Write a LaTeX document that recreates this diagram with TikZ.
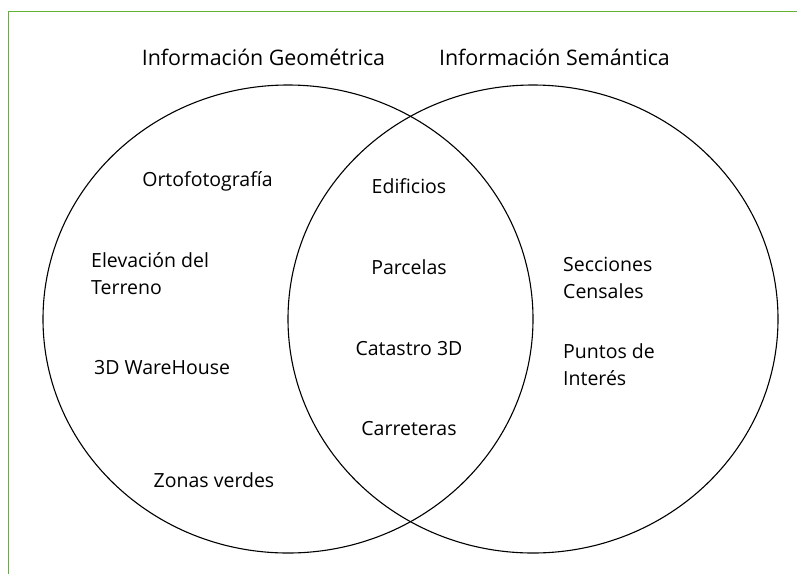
\documentclass[tikz,border=0pt]{standalone}
\usepackage{fontspec}
\setmainfont{Open Sans}
\definecolor{framegreen}{RGB}{98,178,52}
\begin{document}
\begin{tikzpicture}[x=1pt,y=-1pt,
  label/.style={inner sep=0pt, font=\fontsize{19.5}{26.5}\selectfont, text=black},
  title/.style={inner sep=0pt, font=\fontsize{21.4}{26}\selectfont, text=black},
  setline/.style={draw=black, line width=1.1pt},
  frameline/.style={draw=framegreen, line width=1.3pt}]
\useasboundingbox (0,0) rectangle (797,574);
% frame
\coordinate (fr1) at (797,11.5);
\coordinate (fr2) at (8.5,11.5);
\coordinate (fr3) at (8.5,574);
\draw[frameline] (fr1) -- (fr2) -- (fr3);
% sets
\draw[setline] (288,319) ellipse [x radius=245, y radius=234];
\draw[setline] (533,319) ellipse [x radius=245, y radius=234];
% titles
\node[title, anchor=base] (tgeo) at (263.5,65) {Información Geométrica};
\node[title, anchor=base] (tsem) at (554.5,65) {Información Semántica};
% left
\node[label, anchor=base] (orto) at (207.5,186) {Ortofotografía};
\node[label, anchor=base west, align=left] (elev) at (91,294) {Elevación del\\Terreno};
\node[label, anchor=base west] (ware) at (94,374) {3D WareHouse};
\node[label, anchor=base] (zonas) at (214,487) {Zonas verdes};
% middle
\node[label, anchor=base] (edif) at (409,193) {Edificios};
\node[label, anchor=base] (parc) at (409,274) {Parcelas};
\node[label, anchor=base] (cata) at (409,355) {Catastro 3D};
\node[label, anchor=base] (carr) at (409,435) {Carreteras};
% right
\node[label, anchor=base west, align=left] (secc) at (563,298) {Secciones\\Censales};
\node[label, anchor=base west, align=left] (punt) at (563,385) {Puntos de\\Interés};
\end{tikzpicture}
\end{document}
